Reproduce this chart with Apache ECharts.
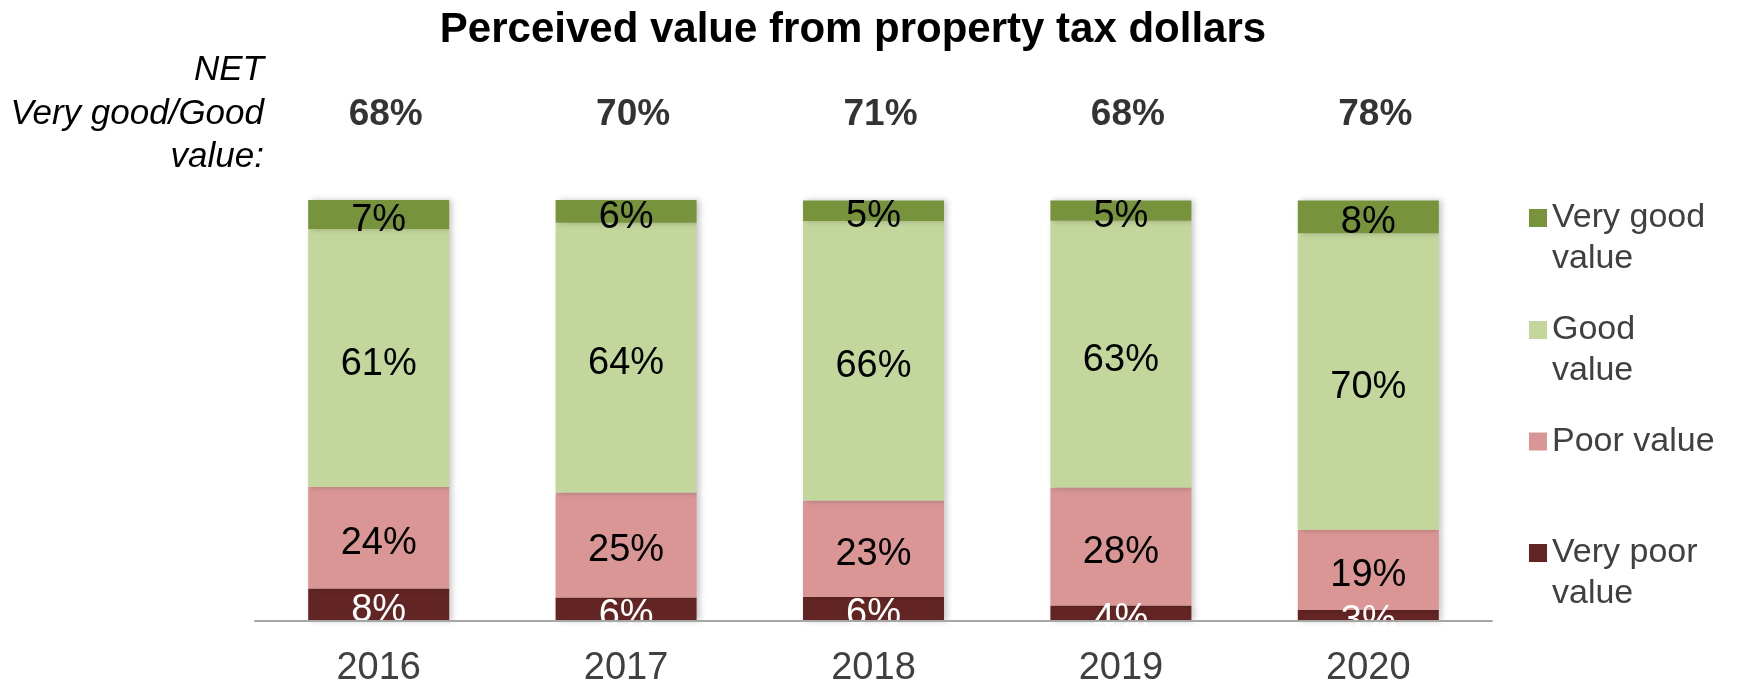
<!DOCTYPE html>
<html>
<head>
<meta charset="utf-8">
<script src="https://cdn.jsdelivr.net/npm/echarts@6/dist/echarts.min.js"></script>
<style>
html, body { margin: 0; padding: 0; background: #fff; }
#main { width: 1737px; height: 683px; }
</style>
</head>
<body>
<div id="main"></div>
<script>
// values (percent of respondents)
const years = ['2016', '2017', '2018', '2019', '2020']
const veryGood = [6.9, 5.5, 4.9, 4.8, 7.8]
const good = [61.3, 64.1, 66.4, 63.4, 70.4]
const poor = [24.1, 24.9, 22.9, 28.0, 19.1]
const veryPoor = [7.7, 5.6, 5.7, 3.7, 2.6]
const netGood = [68, 70, 71, 68, 78]

const FONT = "'Liberation Sans', Arial, sans-serif"
const colors = {
    'Very good value': '#77933C',
    'Good value': '#C3D69B',
    'Poor value': '#D99694',
    'Very poor value': '#632523'
}

function barSeries(name, data, labelColor) {
    return {
        name: name,
        type: 'bar',
        stack: 'total',
        barWidth: '57%',
        data: data,
        itemStyle: {
            color: colors[name],
            shadowColor: 'rgba(0,0,0,0.22)',
            shadowBlur: 6,
            shadowOffsetX: 3
        },
        label: {
            show: true,
            position: 'inside',
            offset: [0, 6],
            color: labelColor,
            fontFamily: FONT,
            fontSize: 38,
            formatter: p => Math.round(p.value) + '%'
        }
    }
}

// one legend per entry so each marker sits on the first text line
function legendItem(name, top, twoLines) {
    return {
        orient: 'vertical',
        left: 1529,
        top: top,
        padding: 0,
        itemWidth: 18,
        itemHeight: 18,
        icon: 'rect',
        selectedMode: false,
        data: [name],
        formatter: n => twoLines ? ' \n' + n.replace(/ value$/, '\nvalue') : n,
        textStyle: {
            fontFamily: FONT,
            fontSize: 34,
            color: '#404040',
            lineHeight: 41
        }
    }
}

const chart = echarts.init(document.getElementById('main'))
chart.setOption({
    animation: false,
    title: [
        {
            text: 'Perceived value from property tax dollars',
            left: 853,
            top: 7,
            padding: 0,
            textAlign: 'center',
            textStyle: { fontFamily: FONT, fontSize: 42, fontWeight: 'bold', color: '#000', lineHeight: 46 }
        },
        {
            text: 'NET\nVery good/Good\nvalue:',
            left: 264,
            top: 49,
            padding: 0,
            textAlign: 'right',
            textStyle: { fontFamily: FONT, fontSize: 35, fontStyle: 'italic', fontWeight: 'normal', color: '#000', lineHeight: 43.5 }
        }
    ],
    legend: [
        legendItem('Very good value', 156.5, true),
        legendItem('Good value', 268.5, true),
        legendItem('Poor value', 421, false),
        legendItem('Very poor value', 491.5, true)
    ],
    grid: [
        { left: 255, right: 245, top: 200, bottom: 62, outerBoundsMode: 'none' },
        { left: 262, right: 238, top: 93, height: 44, outerBoundsMode: 'none' }
    ],
    xAxis: [
        {
            type: 'category',
            data: years,
            z: 10,
            axisLine: { lineStyle: { color: '#A6A6A6', width: 2 } },
            axisTick: { show: false },
            axisLabel: { fontFamily: FONT, fontSize: 38, color: '#404040', margin: 29 }
        },
        { type: 'category', data: years, gridIndex: 1, show: false }
    ],
    yAxis: [
        { type: 'value', min: 0, max: 100, show: false },
        { type: 'category', data: ['net'], gridIndex: 1, show: false }
    ],
    series: [
        barSeries('Very poor value', veryPoor, '#fff'),
        barSeries('Poor value', poor, '#000'),
        barSeries('Good value', good, '#000'),
        barSeries('Very good value', veryGood, '#000'),
        {
            type: 'scatter',
            xAxisIndex: 1,
            yAxisIndex: 1,
            symbolSize: 1,
            itemStyle: { color: 'rgba(0,0,0,0)' },
            data: years.map((y, i) => [y, 'net', netGood[i]]),
            label: {
                show: true,
                position: 'inside',
                color: '#000',
                fontFamily: FONT,
                fontSize: 37,
                fontWeight: 'bold',
                formatter: p => p.value[2] + '%'
            }
        }
    ]
})
</script>
</body>
</html>
